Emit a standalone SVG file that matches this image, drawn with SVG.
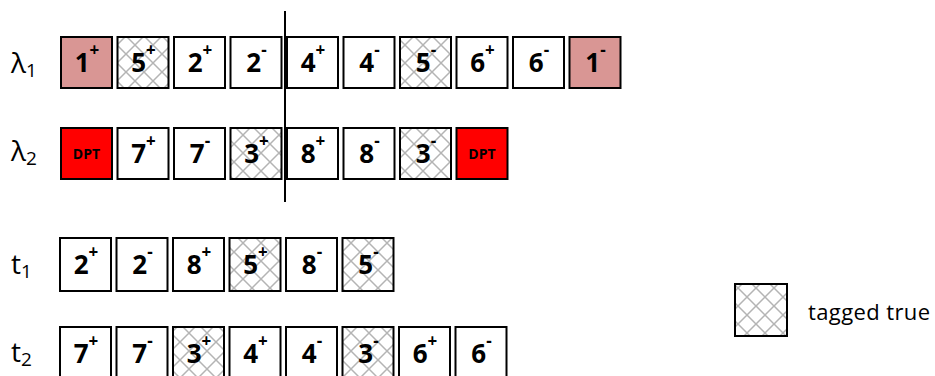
<svg xmlns="http://www.w3.org/2000/svg" width="935" height="376" viewBox="0 0 935 376">
<defs>
<pattern id="hatch" patternUnits="userSpaceOnUse" width="18" height="18">
<rect width="18" height="18" fill="#ffffff"/>
<path d="M0,0 L18,18 M18,0 L0,18" stroke="#b4b4b4" stroke-width="1.5" fill="none"/>
</pattern>
</defs>
<style>
.b{stroke:#000;stroke-width:2;fill:#fff}
.h{fill:url(#hatch)}
.p{fill:#d99694}
.r{fill:#ff0000}
.n{font-family:"Open Sans","Liberation Sans",sans-serif;font-weight:bold;font-size:26px;text-anchor:middle;fill:#000}
.s{font-size:17px}
.d{font-family:"Open Sans","Liberation Sans",sans-serif;font-weight:bold;font-size:14px;text-anchor:middle;fill:#000}
.l{font-family:"Open Sans","Liberation Sans",sans-serif;font-size:28px;fill:#000}
.ls{font-size:19px}
.lg{font-family:"Open Sans","Liberation Sans",sans-serif;font-size:22px;fill:#000}
</style>
<rect width="935" height="376" fill="#fff"/>
<g id="labels">
<text class="l" x="11" y="73">λ<tspan class="ls" dy="4">1</tspan></text>
<text class="l" x="11" y="161">λ<tspan class="ls" dy="4">2</tspan></text>
<text class="l" x="11" y="274">t<tspan class="ls" dy="4">1</tspan></text>
<text class="l" x="11" y="362">t<tspan class="ls" dy="4">2</tspan></text>
</g>
<g id="row-lambda1">
<g id="l1-0"><rect class="b p" x="61" y="37" width="51" height="51"/><text class="n" x="87" y="72">1<tspan class="s" dy="-16">+</tspan></text></g>
<g id="l1-1"><rect class="b h" x="117.5" y="37" width="51" height="51"/><text class="n" x="143.5" y="72">5<tspan class="s" dy="-16">+</tspan></text></g>
<g id="l1-2"><rect class="b" x="174" y="37" width="51" height="51"/><text class="n" x="200" y="72">2<tspan class="s" dy="-16">+</tspan></text></g>
<g id="l1-3"><rect class="b" x="230.5" y="37" width="51" height="51"/><text class="n" x="256.5" y="72">2<tspan class="s" dy="-16">-</tspan></text></g>
<g id="l1-4"><rect class="b" x="287" y="37" width="51" height="51"/><text class="n" x="313" y="72">4<tspan class="s" dy="-16">+</tspan></text></g>
<g id="l1-5"><rect class="b" x="343.5" y="37" width="51" height="51"/><text class="n" x="369.5" y="72">4<tspan class="s" dy="-16">-</tspan></text></g>
<g id="l1-6"><rect class="b h" x="400" y="37" width="51" height="51"/><text class="n" x="426" y="72">5<tspan class="s" dy="-16">-</tspan></text></g>
<g id="l1-7"><rect class="b" x="456.5" y="37" width="51" height="51"/><text class="n" x="482.5" y="72">6<tspan class="s" dy="-16">+</tspan></text></g>
<g id="l1-8"><rect class="b" x="513" y="37" width="51" height="51"/><text class="n" x="539" y="72">6<tspan class="s" dy="-16">-</tspan></text></g>
<g id="l1-9"><rect class="b p" x="569.5" y="37" width="51" height="51"/><text class="n" x="595.5" y="72">1<tspan class="s" dy="-16">-</tspan></text></g>
</g>
<g id="row-lambda2">
<g id="l2-0"><rect class="b r" x="61" y="128" width="51" height="51"/><text class="d" x="86.5" y="159">DPT</text></g>
<g id="l2-1"><rect class="b" x="117.5" y="128" width="51" height="51"/><text class="n" x="143.5" y="163">7<tspan class="s" dy="-16">+</tspan></text></g>
<g id="l2-2"><rect class="b" x="174" y="128" width="51" height="51"/><text class="n" x="200" y="163">7<tspan class="s" dy="-16">-</tspan></text></g>
<g id="l2-3"><rect class="b h" x="230.5" y="128" width="51" height="51"/><text class="n" x="256.5" y="163">3<tspan class="s" dy="-16">+</tspan></text></g>
<g id="l2-4"><rect class="b" x="287" y="128" width="51" height="51"/><text class="n" x="313" y="163">8<tspan class="s" dy="-16">+</tspan></text></g>
<g id="l2-5"><rect class="b" x="343.5" y="128" width="51" height="51"/><text class="n" x="369.5" y="163">8<tspan class="s" dy="-16">-</tspan></text></g>
<g id="l2-6"><rect class="b h" x="400" y="128" width="51" height="51"/><text class="n" x="426" y="163">3<tspan class="s" dy="-16">-</tspan></text></g>
<g id="l2-7"><rect class="b r" x="456.5" y="128" width="51" height="51"/><text class="d" x="482" y="159">DPT</text></g>
</g>
<g id="row-t1">
<g id="t1-0"><rect class="b" x="60" y="238" width="51" height="53"/><text class="n" x="86" y="274">2<tspan class="s" dy="-16">+</tspan></text></g>
<g id="t1-1"><rect class="b" x="116.5" y="238" width="51" height="53"/><text class="n" x="142.5" y="274">2<tspan class="s" dy="-16">-</tspan></text></g>
<g id="t1-2"><rect class="b" x="173" y="238" width="51" height="53"/><text class="n" x="199" y="274">8<tspan class="s" dy="-16">+</tspan></text></g>
<g id="t1-3"><rect class="b h" x="229.5" y="238" width="51" height="53"/><text class="n" x="255.5" y="274">5<tspan class="s" dy="-16">+</tspan></text></g>
<g id="t1-4"><rect class="b" x="286" y="238" width="51" height="53"/><text class="n" x="312" y="274">8<tspan class="s" dy="-16">-</tspan></text></g>
<g id="t1-5"><rect class="b h" x="342.5" y="238" width="51" height="53"/><text class="n" x="368.5" y="274">5<tspan class="s" dy="-16">-</tspan></text></g>
</g>
<g id="row-t2">
<g id="t2-0"><rect class="b" x="60" y="327" width="51" height="53"/><text class="n" x="86" y="363">7<tspan class="s" dy="-16">+</tspan></text></g>
<g id="t2-1"><rect class="b" x="116.5" y="327" width="51" height="53"/><text class="n" x="142.5" y="363">7<tspan class="s" dy="-16">-</tspan></text></g>
<g id="t2-2"><rect class="b h" x="173" y="327" width="51" height="53"/><text class="n" x="199" y="363">3<tspan class="s" dy="-16">+</tspan></text></g>
<g id="t2-3"><rect class="b" x="229.5" y="327" width="51" height="53"/><text class="n" x="255.5" y="363">4<tspan class="s" dy="-16">+</tspan></text></g>
<g id="t2-4"><rect class="b" x="286" y="327" width="51" height="53"/><text class="n" x="312" y="363">4<tspan class="s" dy="-16">-</tspan></text></g>
<g id="t2-5"><rect class="b h" x="342.5" y="327" width="51" height="53"/><text class="n" x="368.5" y="363">3<tspan class="s" dy="-16">-</tspan></text></g>
<g id="t2-6"><rect class="b" x="399" y="327" width="51" height="53"/><text class="n" x="425" y="363">6<tspan class="s" dy="-16">+</tspan></text></g>
<g id="t2-7"><rect class="b" x="455.5" y="327" width="51" height="53"/><text class="n" x="481.5" y="363">6<tspan class="s" dy="-16">-</tspan></text></g>
</g>
<g id="connectors">
<line x1="285" y1="11" x2="285" y2="202" stroke="#000" stroke-width="2"/>
</g>
<g id="legend">
<rect class="b h" x="735" y="284" width="52" height="52"/>
<text class="lg" x="808" y="320" textLength="122" lengthAdjust="spacing">tagged true</text>
</g>
</svg>
